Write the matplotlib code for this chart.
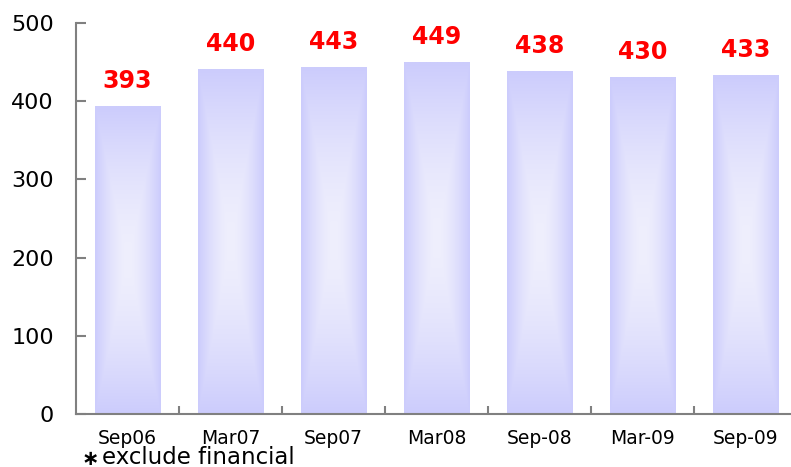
import numpy as np
import matplotlib
matplotlib.use("Agg")
import matplotlib.pyplot as plt
from matplotlib.colors import LinearSegmentedColormap
from matplotlib.ticker import FixedLocator

# chart data
periods = ["Sep06", "Mar07", "Sep07", "Mar08", "Sep-08", "Mar-09", "Sep-09"]
values = [393, 440, 443, 449, 438, 430, 433]

fig = plt.figure(figsize=(7.91, 4.67), dpi=100)
ax = fig.add_axes([76 / 791, 53 / 467, 721 / 791, 391 / 467])

# lavender bars, lighter in the middle (rectangular path gradient)
cmap = LinearSegmentedColormap.from_list("lav", ["#EFEFFD", "#CCCCFC"])
u = np.linspace(-1, 1, 120)
v = np.linspace(-1, 1, 240)
U, V = np.meshgrid(u, v)
grad = np.maximum(np.abs(U), np.abs(V)) ** 1.6

width = 0.64
x = np.arange(len(periods))
bars = ax.bar(x, values, width=width, color="none", edgecolor="none")
for xi, val in zip(x, values):
    ax.imshow(grad, cmap=cmap, extent=(xi - width / 2, xi + width / 2, 0, val),
              aspect="auto", origin="lower", interpolation="bilinear", zorder=1)
    ax.text(xi, val + 33, str(val), ha="center", va="center", color="#FF0000",
            fontsize=17, fontweight="bold")

ax.set_xlim(-0.5, len(periods) - 0.5)
ax.set_ylim(0, 500)
ax.set_yticks(range(0, 501, 100))
ax.set_xticks(x)
ax.set_xticklabels(periods)
ax.xaxis.set_minor_locator(FixedLocator(np.arange(0.5, len(periods), 1)))

for side in ["top", "right"]:
    ax.spines[side].set_visible(False)
for side in ["left", "bottom"]:
    ax.spines[side].set_color("#808080")
    ax.spines[side].set_linewidth(1.5)

ax.tick_params(axis="y", direction="in", length=7, width=1.5, color="#808080",
               labelsize=16, pad=16)
ax.tick_params(axis="x", which="major", length=0, labelsize=13.5, pad=11)
ax.tick_params(axis="x", which="minor", direction="in", length=6, width=1.5,
               color="#808080")

# footnote
fig.text(82 / 791, 1 - 459 / 467, "\u2217", fontsize=15, fontweight="bold",
         va="center", ha="left")
fig.text(102 / 791, 1 - 457 / 467, "exclude financial", fontsize=16.5,
         va="center", ha="left")

fig.savefig("out.png", dpi=100)
